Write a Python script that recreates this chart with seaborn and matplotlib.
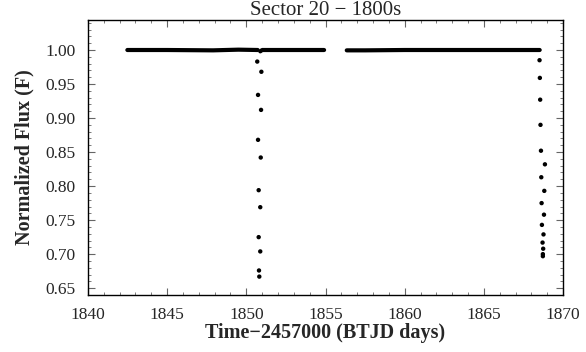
import pandas as pd
import matplotlib
matplotlib.use("Agg")
import matplotlib.pyplot as plt
import seaborn as sns
from matplotlib.ticker import MultipleLocator

# flat out-of-transit parts, read as knots along the dense band of points
seg_time = [1842.49, 1845.0, 1847.9, 1849.5, 1850.72,
            1850.88, 1851.0, 1854.91,
            1856.34, 1857.5, 1860.0, 1868.52]
seg_flux = [1.000, 1.000, 0.9995, 1.0005, 1.000,
            0.998, 1.000, 1.000,
            0.9995, 0.9995, 1.000, 1.000]
seg_id = [1, 1, 1, 1, 1,
          2, 2, 2,
          3, 3, 3, 3]

# points inside the two dips
dip1_time = [1850.69, 1850.95, 1850.74, 1850.93, 1850.74, 1850.91,
             1850.78, 1850.88, 1850.78, 1850.88, 1850.80, 1850.82]
dip1_flux = [0.983, 0.968, 0.934, 0.912, 0.868, 0.842,
             0.794, 0.769, 0.725, 0.704, 0.676, 0.667]

dip2_time = [1868.51, 1868.53, 1868.55, 1868.57, 1868.60, 1868.85, 1868.62,
             1868.81, 1868.64, 1868.79, 1868.66, 1868.76, 1868.70, 1868.74,
             1868.72, 1868.72]
dip2_flux = [0.985, 0.959, 0.927, 0.890, 0.852, 0.832, 0.813,
             0.793, 0.775, 0.758, 0.743, 0.729, 0.717, 0.708,
             0.700, 0.697]

sns.set_theme(style="ticks")
plt.rcParams['font.family'] = ['Liberation Serif', 'DejaVu Serif']

base = pd.DataFrame({'time': seg_time, 'flux': seg_flux, 'seg': seg_id})
dips = pd.DataFrame({'time': dip1_time + dip2_time,
                     'flux': dip1_flux + dip2_flux})

fig = plt.figure(figsize=(5.86, 3.52), dpi=100)
ax = fig.add_axes([0.150, 0.162, 0.811, 0.781])

for s, part in base.groupby('seg'):
    sns.lineplot(data=part, x='time', y='flux', color='black', lw=3.0,
                 sort=False, ax=ax, legend=False)
sns.scatterplot(data=dips, x='time', y='flux', color='black', s=10,
                edgecolor='none', ax=ax, legend=False)

ax.set_xlim(1840, 1870)
ax.set_ylim(0.64, 1.044)
ax.xaxis.set_major_locator(MultipleLocator(5))
ax.xaxis.set_minor_locator(MultipleLocator(1))
ax.yaxis.set_major_locator(MultipleLocator(0.05))
ax.yaxis.set_minor_locator(MultipleLocator(0.01))
ax.tick_params(which='both', direction='in', top=True, right=True,
               labelsize=12.5, color='#666666')
ax.tick_params(axis='x', which='major', pad=9)
ax.tick_params(axis='y', which='major', pad=9)
ax.tick_params(which='major', length=5, width=0.8)
ax.tick_params(which='minor', length=2.5, width=0.6)
ax.yaxis.set_major_formatter(plt.FormatStrFormatter('%.2f'))
for sp in ax.spines.values():
    sp.set_linewidth(1.0)
    sp.set_color('black')

ax.set_title('Sector 20 \u2212 1800s', fontsize=15, pad=2)
ax.set_xlabel('Time\u22122457000 (BTJD days)', fontsize=14.5,
              fontweight='bold', labelpad=0)
ax.set_ylabel('Normalized Flux (F)', fontsize=14.5, fontweight='bold',
              labelpad=8)

fig.savefig('out.png', dpi=100)
